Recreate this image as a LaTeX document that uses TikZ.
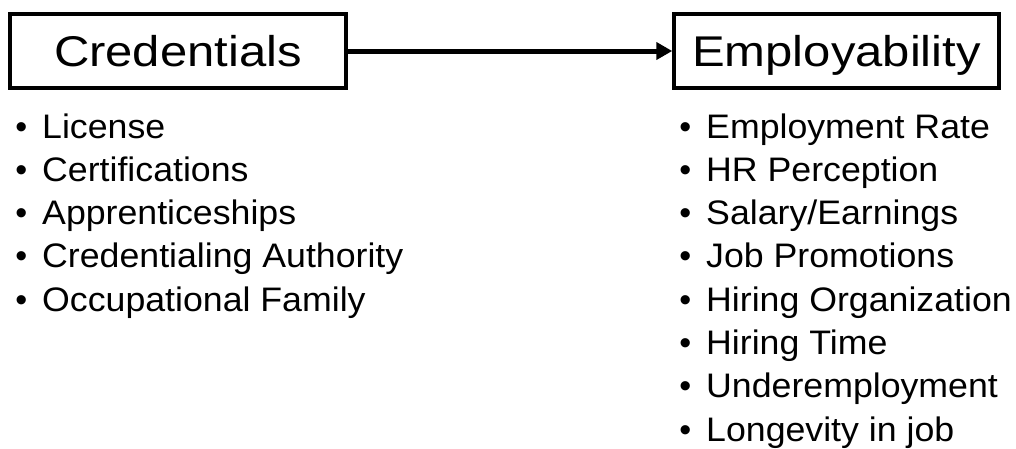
\documentclass[tikz,border=0pt]{standalone}
\usepackage{fontspec}
\usepackage{graphicx}
\setmainfont{Liberation Sans}
\usetikzlibrary{arrows.meta}
\newcommand{\ttl}[1]{\scalebox{1.14}[1]{#1}}
\newcommand{\bul}[1]{\llap{•\hspace{15pt}}\scalebox{1.05}[1]{#1}}
\begin{document}
\begin{tikzpicture}[x=1pt,y=-1pt,
  titlebox/.style={draw=black,line width=3.5pt,inner sep=0pt,font=\fontsize{43}{47}\selectfont,
    text height=31pt,text depth=0pt,minimum height=74pt},
  item/.style={anchor=base west,inner sep=0pt,font=\fontsize{34}{38}\selectfont},
  link/.style={line width=5pt,-{Triangle[length=16pt,width=17pt]}}]
\useasboundingbox (0,0) rectangle (1016,448);
\node[titlebox,minimum width=336pt] (cred) at (178,51) {\ttl{Credentials}};
\node[titlebox,minimum width=325pt] (emp) at (836.5,51) {\ttl{Employability}};
\draw[link] (cred.east) -- (emp.west);
\node[item] (l1) at (42,138) {\bul{License}};
\node[item] (l2) at (42,181.3) {\bul{Certifications}};
\node[item] (l3) at (42,224.6) {\bul{Apprenticeships}};
\node[item] (l4) at (42,267.9) {\bul{Credentialing Authority}};
\node[item] (l5) at (42,311.2) {\bul{Occupational Family}};
\node[item] (r1) at (706,138) {\bul{Employment Rate}};
\node[item] (r2) at (706,181.3) {\bul{HR Perception}};
\node[item] (r3) at (706,224.6) {\bul{Salary/Earnings}};
\node[item] (r4) at (706,267.9) {\bul{Job Promotions}};
\node[item] (r5) at (706,311.2) {\bul{Hiring Organization}};
\node[item] (r6) at (706,354.5) {\bul{Hiring Time}};
\node[item] (r7) at (706,397.8) {\bul{Underemployment}};
\node[item] (r8) at (706,441.1) {\bul{Longevity in job}};
\end{tikzpicture}
\end{document}
